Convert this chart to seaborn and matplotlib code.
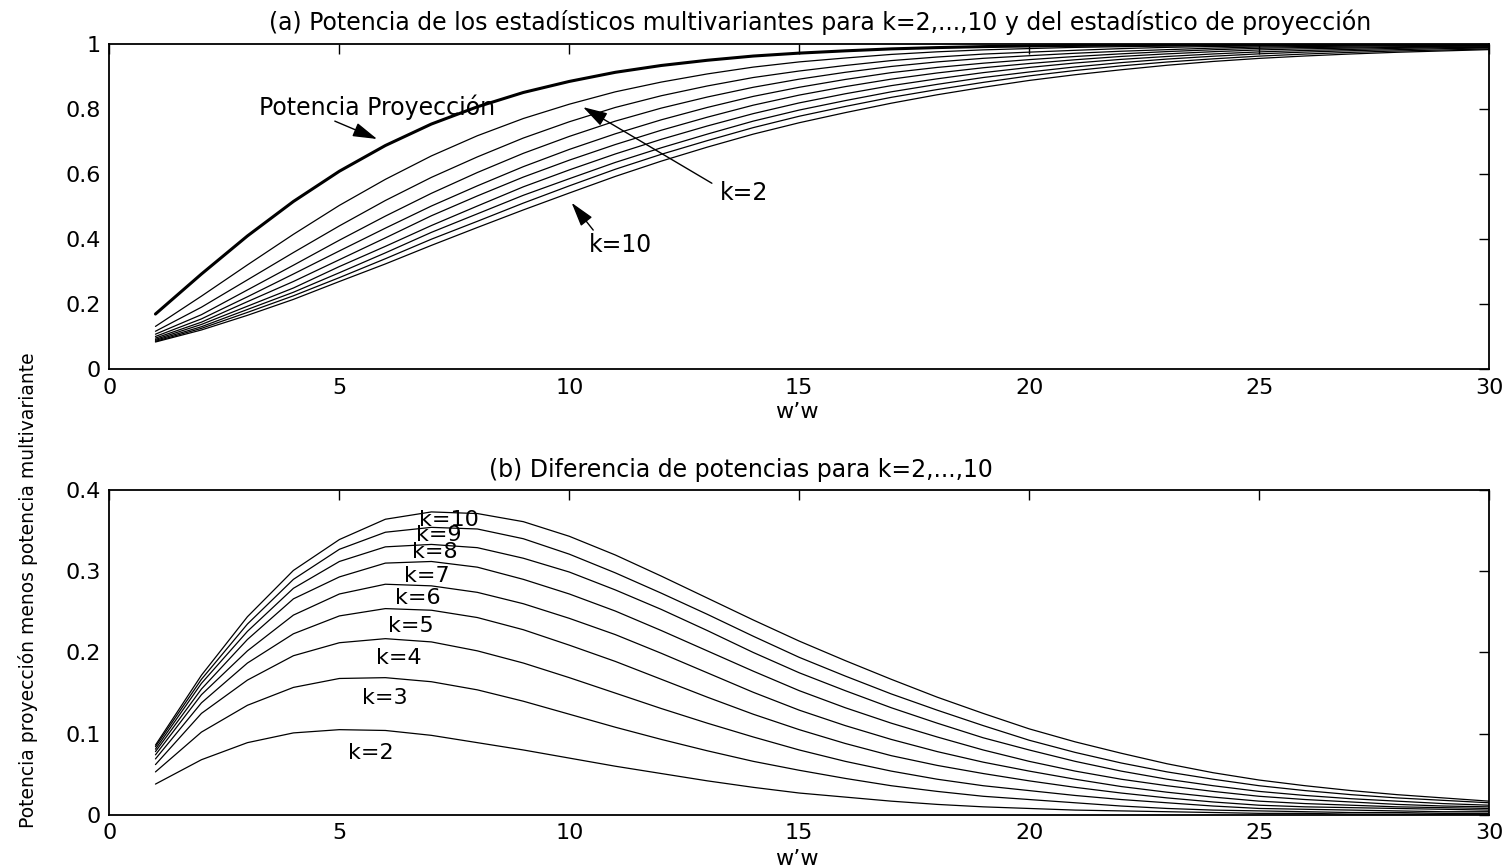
import numpy as np
import pandas as pd
import matplotlib
matplotlib.use("Agg")
import matplotlib.pyplot as plt
import seaborn as sns

# w'w values (non-centrality)
w = list(range(1, 31))

# Power of the projection statistic
potencia_proyeccion = [0.170, 0.293, 0.410, 0.516, 0.609, 0.688, 0.754, 0.807, 0.851, 0.885,
                       0.913, 0.934, 0.950, 0.963, 0.972, 0.979, 0.985, 0.989, 0.992, 0.994,
                       0.9956, 0.9968, 0.9977, 0.9984, 0.9988, 0.9992, 0.9994, 0.9996, 0.9997, 0.9998]

# Projection power minus multivariate power, for k = 2, ..., 10
dif_k2 = [0.038, 0.068, 0.089, 0.101, 0.105, 0.104, 0.098, 0.089, 0.080, 0.070,
          0.060, 0.051, 0.042, 0.034, 0.027, 0.022, 0.017, 0.013, 0.010, 0.008,
          0.006, 0.005, 0.004, 0.003, 0.002, 0.002, 0.001, 0.001, 0.001, 0.001]
dif_k3 = [0.053, 0.102, 0.135, 0.157, 0.168, 0.169, 0.164, 0.154, 0.140, 0.124,
          0.108, 0.093, 0.079, 0.066, 0.055, 0.045, 0.036, 0.029, 0.023, 0.019,
          0.015, 0.011, 0.008, 0.006, 0.005, 0.004, 0.003, 0.003, 0.002, 0.002]
dif_k4 = [0.062, 0.125, 0.166, 0.196, 0.212, 0.217, 0.213, 0.202, 0.187, 0.169,
          0.150, 0.131, 0.113, 0.096, 0.080, 0.066, 0.054, 0.044, 0.036, 0.030,
          0.024, 0.019, 0.015, 0.011, 0.008, 0.007, 0.006, 0.005, 0.004, 0.004]
dif_k5 = [0.069, 0.138, 0.187, 0.223, 0.245, 0.254, 0.252, 0.243, 0.228, 0.209,
          0.189, 0.167, 0.145, 0.124, 0.105, 0.088, 0.073, 0.061, 0.051, 0.042,
          0.034, 0.027, 0.021, 0.016, 0.012, 0.010, 0.009, 0.008, 0.007, 0.006]
dif_k6 = [0.074, 0.148, 0.202, 0.246, 0.272, 0.284, 0.282, 0.274, 0.260, 0.242,
          0.222, 0.199, 0.175, 0.151, 0.129, 0.110, 0.093, 0.078, 0.065, 0.054,
          0.044, 0.035, 0.028, 0.022, 0.017, 0.014, 0.012, 0.010, 0.009, 0.008]
dif_k7 = [0.078, 0.155, 0.216, 0.266, 0.293, 0.310, 0.312, 0.305, 0.290, 0.272,
          0.251, 0.227, 0.202, 0.177, 0.153, 0.132, 0.113, 0.096, 0.080, 0.066,
          0.054, 0.044, 0.036, 0.029, 0.023, 0.019, 0.016, 0.013, 0.011, 0.010]
dif_k8 = [0.081, 0.162, 0.226, 0.279, 0.312, 0.330, 0.333, 0.329, 0.316, 0.299,
          0.277, 0.253, 0.227, 0.200, 0.175, 0.153, 0.132, 0.113, 0.095, 0.080,
          0.066, 0.054, 0.044, 0.036, 0.029, 0.024, 0.020, 0.017, 0.014, 0.012]
dif_k9 = [0.084, 0.167, 0.235, 0.290, 0.327, 0.348, 0.354, 0.352, 0.340, 0.321,
          0.298, 0.273, 0.247, 0.220, 0.194, 0.171, 0.149, 0.129, 0.110, 0.092,
          0.077, 0.064, 0.053, 0.044, 0.036, 0.030, 0.025, 0.021, 0.018, 0.015]
dif_k10 = [0.086, 0.172, 0.244, 0.301, 0.339, 0.364, 0.373, 0.371, 0.361, 0.343,
           0.320, 0.294, 0.267, 0.240, 0.214, 0.190, 0.167, 0.145, 0.125, 0.106,
           0.090, 0.076, 0.063, 0.052, 0.043, 0.036, 0.030, 0.025, 0.021, 0.017]

k_valores = [2, 3, 4, 5, 6, 7, 8, 9, 10]
diferencias = [dif_k2, dif_k3, dif_k4, dif_k5, dif_k6, dif_k7, dif_k8, dif_k9, dif_k10]

x_ticks = [0, 5, 10, 15, 20, 25, 30]
y_ticks_a = [0, 0.2, 0.4, 0.6, 0.8, 1]
y_tick_labels_a = ["0", "0.2", "0.4", "0.6", "0.8", "1"]
y_ticks_b = [0, 0.1, 0.2, 0.3, 0.4]
y_tick_labels_b = ["0", "0.1", "0.2", "0.3", "0.4"]

# Long-format table
filas = []
for k, dif in zip(k_valores, diferencias):
    for xi, p, d in zip(w, potencia_proyeccion, dif):
        filas.append({"w": xi, "k": k, "multivariante": p - d, "diferencia": d})
df = pd.DataFrame(filas)
df_proy = pd.DataFrame({"w": w, "potencia": potencia_proyeccion})

sns.set_style("white")
plt.rcParams["font.family"] = ["DejaVu Sans"]
plt.rcParams["font.size"] = 17
plt.rcParams["text.color"] = "black"
plt.rcParams["xtick.color"] = "black"
plt.rcParams["ytick.color"] = "black"
plt.rcParams["axes.labelcolor"] = "black"

FS = 17
FS_TICK = 16

fig = plt.figure(figsize=(15.10, 8.68), dpi=100)
ax1 = fig.add_axes([0.0725, 0.5745, 0.9136, 0.3748])
ax2 = fig.add_axes([0.0725, 0.0611, 0.9136, 0.3744])

# (a) power curves
sns.lineplot(data=df, x="w", y="multivariante", units="k", estimator=None,
             color="black", lw=0.9, ax=ax1)
sns.lineplot(data=df_proy, x="w", y="potencia", color="black", lw=2.2, ax=ax1)

# (b) differences
sns.lineplot(data=df, x="w", y="diferencia", units="k", estimator=None,
             color="black", lw=0.9, ax=ax2)

for ax, yt, ytl, ylim in [(ax1, y_ticks_a, y_tick_labels_a, (0, 1)),
                          (ax2, y_ticks_b, y_tick_labels_b, (0, 0.4))]:
    ax.set_xlim(0, 30)
    ax.set_ylim(*ylim)
    ax.set_xticks(x_ticks)
    ax.set_xticklabels([str(t) for t in x_ticks])
    ax.set_yticks(yt)
    ax.set_yticklabels(ytl)
    ax.set_xlabel("")
    ax.set_ylabel("")
    ax.tick_params(direction="in", length=7, width=1.0, top=True, right=True,
                   labelsize=FS_TICK, pad=6, color="black", labelcolor="black")
    for s in ax.spines.values():
        s.set_linewidth(1.3)
        s.set_color("black")

# Titles and axis labels
fig.text(820 / 1510, 1 - 22 / 868,
         "(a) Potencia de los estadísticos multivariantes para k=2,...,10 y del estadístico de proyección",
         ha="center", va="center", fontsize=FS)
fig.text(741 / 1510, 1 - 470 / 868, "(b) Diferencia de potencias para k=2,...,10",
         ha="center", va="center", fontsize=FS)
fig.text(797 / 1510, 1 - 412 / 868, "w\u2019w", ha="center", va="center", fontsize=FS_TICK)
fig.text(797 / 1510, 1 - 859 / 868, "w\u2019w", ha="center", va="center", fontsize=FS_TICK)
fig.text(28 / 1510, 1 - 590 / 868, "Potencia proyección menos potencia multivariante",
         rotation=90, ha="center", va="center", fontsize=13.5)

# Annotations in (a)
flecha = dict(arrowstyle="-|>,head_length=0.75,head_width=0.22", color="black",
              lw=1.0, mutation_scale=20, shrinkA=0, shrinkB=0)
ax1.text(3.25, 0.806, "Potencia Proyección", ha="left", va="center", fontsize=FS)
ax1.annotate("", xy=(5.82, 0.708), xytext=(4.90, 0.763), arrowprops=flecha)
ax1.text(13.28, 0.542, "k=2", ha="left", va="center", fontsize=FS)
ax1.annotate("", xy=(10.30, 0.806), xytext=(13.10, 0.572), arrowprops=flecha)
ax1.text(10.43, 0.382, "k=10", ha="left", va="center", fontsize=FS)
ax1.annotate("", xy=(10.05, 0.512), xytext=(10.52, 0.428), arrowprops=flecha)

# Curve labels in (b)
etiquetas_b = ["k=2", "k=3", "k=4", "k=5", "k=6", "k=7", "k=8", "k=9", "k=10"]
etiq_x = [5.19, 5.49, 5.80, 6.06, 6.21, 6.41, 6.58, 6.67, 6.73]
etiq_y = [0.076, 0.144, 0.193, 0.233, 0.267, 0.294, 0.324, 0.344, 0.363]
for t, xx, yy in zip(etiquetas_b, etiq_x, etiq_y):
    ax2.text(xx, yy, t, ha="left", va="center", fontsize=16)

fig.savefig("out.png", dpi=100)
